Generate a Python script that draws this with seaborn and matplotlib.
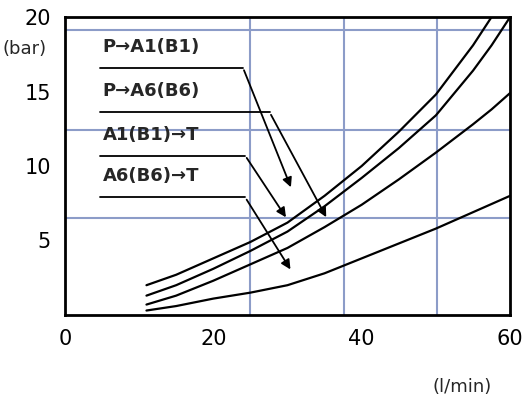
import numpy as np
import pandas as pd
import matplotlib.pyplot as plt
import seaborn as sns

# flow (l/min) and pressure drop (bar)
flow = [11, 15, 20, 25, 30, 35, 40, 45, 50, 55, 57.5, 60]
p_a1 = [2.0, 2.7, 3.8, 4.9, 6.2, 8.0, 10.0, 12.3, 14.8, 18.1, 20.0, None]
p_a6 = [1.3, 2.0, 3.1, 4.3, 5.6, 7.3, 9.2, 11.2, 13.4, 16.4, 18.1, 20.0]
a1_t = [0.7, 1.3, 2.3, 3.4, 4.5, 5.9, 7.4, 9.1, 10.9, 12.8, 13.8, 14.9]
a6_t = [0.3, 0.6, 1.1, 1.5, 2.0, 2.8, 3.8, 4.8, 5.8, 6.9, 7.45, 8.0]

labels = ['P\u2192A1(B1)', 'P\u2192A6(B6)', 'A1(B1)\u2192T', 'A6(B6)\u2192T']
text_y = [17.4, 14.4, 11.5, 8.7]
line_end = [24.0, 27.6, 24.3, 24.3]
arrow_tip = [(30.6, 8.4), (35.4, 6.4), (30.0, 6.4), (30.6, 2.9)]

df = pd.DataFrame({'flow': flow, 'P-A1': p_a1, 'P-A6': p_a6,
                   'A1-T': a1_t, 'A6-T': a6_t})
df = df.melt('flow', var_name='path', value_name='bar').dropna()

sns.set_style('white')
fig = plt.figure(figsize=(5.27, 4), dpi=100)
ax = fig.add_axes([0.123, 0.2125, 0.845, 0.745])

grid_c = '#8c9cc8'
for gx in [25, 37.6, 50.1]:
    ax.axvline(gx, color=grid_c, lw=1.5, zorder=0)
for gy in [19.1, 12.4, 6.5]:
    ax.axhline(gy, color=grid_c, lw=1.5, zorder=0)

sns.lineplot(data=df, x='flow', y='bar', units='path', estimator=None,
             color='black', lw=1.6, ax=ax, legend=False)

for lab, ty, le, tip in zip(labels, text_y, line_end, arrow_tip):
    ax.text(5.1, ty, lab, fontsize=13, fontweight='bold', va='bottom')
    ax.plot([4.7, le], [ty - 0.8, ty - 0.8], color='black', lw=1.3)
    ax.annotate('', xy=tip, xytext=(le, ty - 0.8),
                arrowprops=dict(arrowstyle='-|>', color='black', lw=1.3,
                                mutation_scale=14))

ax.set_xlim(0, 60)
ax.set_ylim(0, 20)
ax.set_xticks([0, 20, 40, 60])
ax.set_yticks([5, 10, 15, 20])
ax.tick_params(labelsize=15, length=0, pad=10, labelcolor='black')
ax.set_xlabel('')
ax.set_ylabel('')
for s in ax.spines.values():
    s.set_linewidth(2)
    s.set_color('black')
fig.text(0.005, 0.865, '(bar)', fontsize=13)
fig.text(0.82, 0.02, '(l/min)', fontsize=13)
fig.savefig('out.png', dpi=100)
